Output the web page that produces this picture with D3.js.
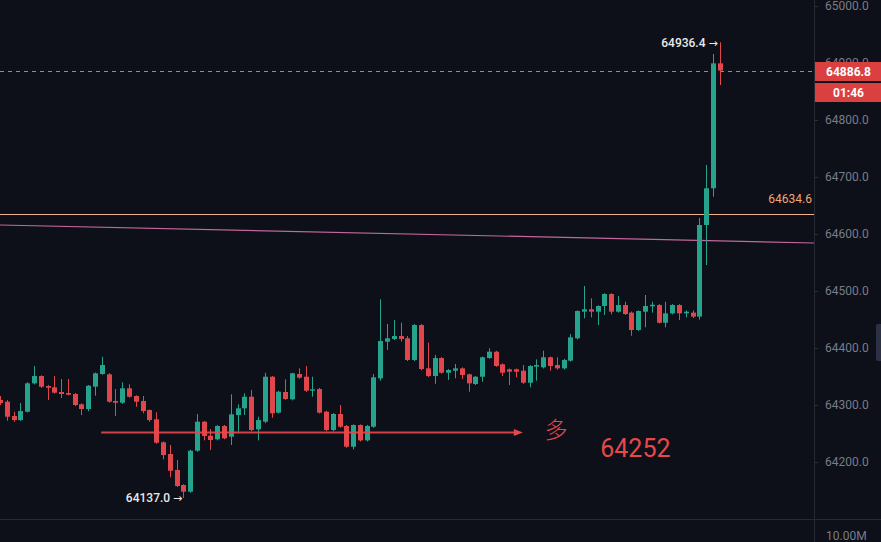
<!DOCTYPE html>
<html><head><meta charset="utf-8">
<script src="https://cdn.jsdelivr.net/npm/d3@7"></script>
<style>
html,body{margin:0;padding:0;background:#0d1018;overflow:hidden;}
svg{display:block;}
</style></head><body>
<svg id="c" width="881" height="542"></svg>
<script>
const opens=[64308.8,64305.8,64280.7,64273.6,64288.2,64338.0,64350.8,64333.3,64331.0,64322.8,64321.0,64319.3,64301.2,64292.9,64332.1,64354.4,64353.8,64307.0,64304.0,64329.3,64315.8,64307.0,64291.2,64274.9,64234.5,64214.0,64186.0,64159.7,64147.9,64219.8,64270.7,64246.1,64239.8,64263.2,64244.4,64282.4,64294.2,64314.5,64257.3,64270.7,64349.6,64286.5,64322.8,64310.0,64354.4,64349.6,64325.1,64328.0,64288.2,64256.1,64284.2,64263.2,64226.8,64264.9,64237.9,64261.9,64346.8,64411.0,64415.8,64421.0,64417.0,64379.0,64440.3,64364.3,64350.8,64382.4,64356.6,64360.2,64364.3,64353.8,64336.8,64349.6,64382.4,64393.5,64371.4,64362.6,64362.6,64360.2,64339.1,64367.2,64366.1,64383.7,64370.1,64364.3,64377.8,64417.0,64463.7,64467.9,64463.7,64473.7,64494.7,64463.7,64475.4,64462.1,64431.6,64463.7,64473.1,64475.4,64444.3,64460.8,64475.4,64460.8,64462.1,64455.1,64615.8,64680.2,64899.4];
const highs=[64315.8,64308.8,64288.2,64303.5,64340.0,64368.4,64352.0,64335.0,64350.8,64345.6,64345.6,64321.0,64303.0,64335.0,64357.0,64384.7,64356.0,64328.0,64339.8,64336.3,64317.0,64315.8,64292.0,64287.2,64236.0,64229.8,64203.5,64161.0,64221.5,64284.2,64272.0,64257.9,64265.0,64265.0,64318.7,64301.2,64320.5,64326.3,64279.4,64356.6,64351.0,64325.0,64345.1,64356.6,64364.3,64368.4,64349.6,64330.0,64290.0,64286.0,64300.0,64265.0,64266.0,64266.0,64265.0,64354.4,64485.4,64442.1,64449.1,64444.3,64421.0,64442.0,64442.0,64409.6,64388.0,64384.0,64363.0,64371.9,64366.0,64355.0,64351.0,64385.0,64399.5,64395.0,64373.0,64364.0,64364.0,64370.1,64370.0,64380.1,64395.2,64385.0,64383.7,64381.0,64424.5,64466.0,64508.8,64487.2,64475.0,64496.0,64496.0,64491.2,64481.2,64464.0,64466.0,64493.0,64481.2,64477.0,64481.2,64477.0,64477.0,64466.0,64466.0,64628.1,64721.0,64915.8,64936.4];
const lows=[64300.0,64272.4,64270.7,64272.0,64287.0,64336.0,64330.0,64308.8,64320.0,64312.3,64317.0,64298.0,64282.4,64289.0,64316.3,64353.0,64304.0,64280.7,64302.0,64313.0,64297.0,64285.4,64270.7,64232.0,64204.7,64173.1,64156.0,64137.0,64146.0,64218.0,64237.9,64221.0,64238.0,64240.0,64229.8,64253.1,64282.4,64254.0,64237.9,64268.0,64277.7,64285.0,64309.0,64308.0,64346.0,64323.0,64314.5,64285.0,64254.0,64254.0,64260.0,64225.0,64222.2,64236.0,64236.0,64260.0,64342.6,64396.5,64414.0,64411.0,64377.0,64377.0,64361.0,64349.0,64337.3,64355.0,64344.0,64346.8,64345.6,64323.3,64335.0,64340.8,64381.0,64367.0,64350.8,64335.1,64348.6,64337.0,64331.0,64342.6,64364.0,64360.2,64362.0,64362.0,64376.0,64415.0,64452.1,64453.8,64440.3,64457.9,64459.1,64462.0,64458.0,64421.5,64430.0,64436.3,64462.1,64443.0,64436.3,64459.0,64449.1,64453.8,64452.6,64450.0,64545.6,64665.4,64861.4];
const closes=[64303.5,64279.4,64273.6,64289.4,64338.0,64350.8,64332.1,64330.3,64321.6,64319.3,64318.1,64300.0,64292.9,64333.8,64355.6,64370.1,64305.8,64304.0,64329.3,64314.5,64305.8,64289.4,64273.6,64233.8,64212.3,64184.7,64157.9,64147.9,64219.8,64270.7,64245.6,64238.6,64263.2,64241.6,64283.6,64294.2,64314.5,64256.1,64273.6,64349.6,64285.4,64323.3,64310.5,64355.6,64347.9,64325.1,64327.5,64286.5,64256.1,64284.2,64261.9,64226.8,64264.9,64237.9,64263.2,64348.6,64412.3,64417.0,64421.0,64415.8,64379.0,64440.3,64363.1,64350.8,64382.4,64356.6,64361.4,64364.3,64352.6,64338.0,64349.6,64383.7,64393.5,64368.4,64356.6,64358.4,64358.4,64339.1,64368.4,64370.1,64383.7,64368.4,64364.3,64379.0,64418.7,64464.9,64467.9,64463.7,64473.7,64494.7,64463.7,64475.4,64459.6,64431.6,64464.9,64473.7,64475.9,64444.3,64460.8,64475.4,64460.8,64463.7,64455.1,64615.8,64680.2,64899.4,64886.8];
const priceTicks=[64200,64300,64400,64500,64600,64700,64800,64900,65000];
const lastPrice=64886.8;
const countdown="01:46";
const levelPrice=64634.6;
const trendPrices=[64615.8,64584.2];
const trendIdx=[0,120];
const arrowPrice=64252;
const arrowIdx=[14.9,77.0];
const noteLabel="多";
const noteValue="64252";
const highLabel="64936.4";
const lowLabel="64137.0";
const volumeLabel="10.00M";

const W=881,H=542,plotW=814,plotH=519;
const svg=d3.select("#c");
svg.append("rect").attr("width",W).attr("height",H).attr("fill","#0d1018");

const x=d3.scaleLinear().domain([0,120]).range([0,814.8]);
const y=d3.scaleLinear().domain([64200,65000]).range([462,6]);
const up="#26a38c", down="#e0474c";

const defs=svg.append("defs");
defs.append("clipPath").attr("id","pc").append("rect").attr("width",plotW).attr("height",plotH);
const plot=svg.append("g").attr("clip-path","url(#pc)");

// level line
plot.append("line").attr("x1",0).attr("x2",plotW).attr("y1",Math.round(y(levelPrice))+0.5).attr("y2",Math.round(y(levelPrice))+0.5)
  .attr("stroke","#f2b48c").attr("stroke-width",1);
// trend line
plot.append("line").attr("x1",x(trendIdx[0])).attr("x2",x(trendIdx[1])).attr("y1",y(trendPrices[0])).attr("y2",y(trendPrices[1]))
  .attr("stroke","#c4679c").attr("stroke-width",1.2);
// last price dashed
plot.append("line").attr("x1",0).attr("x2",plotW).attr("y1",Math.round(y(lastPrice))+0.5).attr("y2",Math.round(y(lastPrice))+0.5)
  .attr("stroke","#ff5a78").attr("stroke-width",1).attr("stroke-dasharray","4,4").attr("shape-rendering","crispEdges");

// candles
const data=opens.map((o,i)=>({i,o,h:highs[i],l:lows[i],c:closes[i]}));
const cg=plot.append("g");
cg.selectAll("line.w").data(data).join("line").attr("class","w")
  .attr("x1",d=>Math.round(x(d.i))+0.5).attr("x2",d=>Math.round(x(d.i))+0.5)
  .attr("y1",d=>y(d.h)).attr("y2",d=>y(d.l))
  .attr("stroke",d=>d.c>=d.o?up:down).attr("stroke-width",1);
cg.selectAll("rect.b").data(data).join("rect").attr("class","b")
  .attr("x",d=>Math.round(x(d.i))-2).attr("width",5)
  .attr("y",d=>y(Math.max(d.o,d.c)))
  .attr("height",d=>Math.max(1,Math.abs(y(d.o)-y(d.c))))
  .attr("fill",d=>d.c>=d.o?up:down);

// arrow
const ay=Math.round(y(arrowPrice))+0.5;
plot.append("line").attr("x1",x(arrowIdx[0])).attr("x2",x(arrowIdx[1])-6).attr("y1",ay).attr("y2",ay)
  .attr("stroke","#e8474b").attr("stroke-width",2).attr("opacity",0.9);
const ax=x(arrowIdx[1]);
plot.append("path").attr("d",`M${ax},${ay} L${ax-9},${ay-3.5} L${ax-9},${ay+3.5} Z`).attr("fill","#e8474b");

// annotations
plot.append("text").attr("x",x(80.2)).attr("y",y(arrowPrice)+6).text(noteLabel)
  .attr("fill","#e8474b").attr("font-family","'Noto Sans CJK SC'").attr("font-size",23).attr("font-weight",300);
plot.append("text").attr("x",x(88.4)).attr("y",y(arrowPrice)+25).text(noteValue)
  .attr("fill","#e8474b").attr("font-family","Roboto, 'Noto Sans'").attr("font-size",25);

// high / low labels with arrow glyph
function markLabel(txt, xEnd, yBase){
  const t=plot.append("text").attr("x",xEnd).attr("y",yBase).attr("text-anchor","end")
    .attr("fill","#e8e9ec").attr("font-family","Roboto").attr("font-size",12).attr("font-weight",500);
  t.append("tspan").text(txt+" ");
  t.append("tspan").text("\u2192").attr("font-family","'DejaVu Sans'").attr("font-size",11);
}
markLabel(highLabel, x(106)-2, y(64936.4)+4.5);
markLabel(lowLabel, x(27)-1, y(64137.0)+4);

// level label
plot.append("text").attr("x",plotW-2).attr("y",y(levelPrice)-11).attr("text-anchor","end")
  .text(levelPrice.toFixed(1)).attr("fill","#f2a672").attr("font-family","Roboto").attr("font-size",12);

// axis
const axisG=svg.append("g").attr("transform",`translate(${plotW},0)`)
  .call(d3.axisRight(y).tickValues(priceTicks).tickFormat(d3.format(".1f")).tickSize(4).tickPadding(7));
axisG.select(".domain").remove();
axisG.selectAll("line").attr("stroke","#2c303c");
axisG.selectAll("text").attr("fill","#777c8a").attr("font-family","Roboto").attr("font-size",12);

svg.append("line").attr("x1",plotW+0.5).attr("x2",plotW+0.5).attr("y1",0).attr("y2",H).attr("stroke","#262a35");
svg.append("line").attr("x1",0).attr("x2",W).attr("y1",plotH+0.5).attr("y2",plotH+0.5).attr("stroke","#262a35");
svg.append("text").attr("x",plotW+12).attr("y",540).text(volumeLabel).attr("fill","#777c8a").attr("font-family","Roboto").attr("font-size",12);

// price boxes
const by=Math.round(y(lastPrice));
svg.append("rect").attr("x",plotW+1).attr("y",by-9).attr("width",W-plotW-1).attr("height",19).attr("fill","#d9403f");
svg.append("text").attr("x",(plotW+W)/2+1).attr("y",by+4.5).attr("text-anchor","middle").text(lastPrice.toFixed(1))
  .attr("fill","#fff").attr("font-family","Roboto").attr("font-size",12).attr("font-weight",700);
svg.append("rect").attr("x",plotW+1).attr("y",by+12).attr("width",W-plotW-1).attr("height",19).attr("fill","#d9403f");
svg.append("text").attr("x",(plotW+W)/2+1).attr("y",by+25.5).attr("text-anchor","middle").text(countdown)
  .attr("fill","#fff").attr("font-family","Roboto").attr("font-size",12).attr("font-weight",700);

// side tab
svg.append("rect").attr("x",876).attr("y",324).attr("width",8).attr("height",37).attr("rx",2).attr("fill","#2b3143");
</script>
</body></html>
